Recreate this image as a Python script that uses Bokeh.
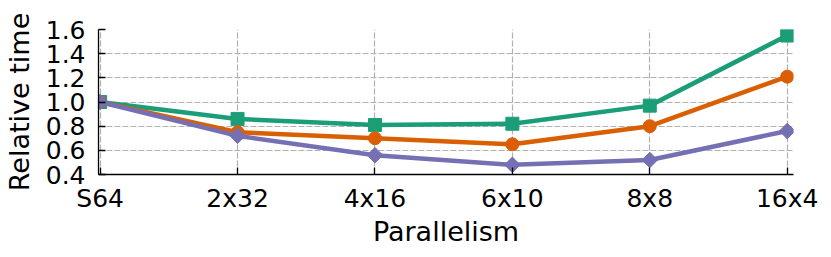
import math
from bokeh.plotting import figure
from bokeh.models import FixedTicker
from bokeh.embed import file_html
from bokeh.resources import INLINE

categories = ["S64", "2x32", "4x16", "6x10", "8x8", "16x4"]
green_vals = [1.0, 0.86, 0.81, 0.82, 0.97, 1.55]
orange_vals = [1.0, 0.75, 0.70, 0.65, 0.80, 1.21]
purple_vals = [1.0, 0.72, 0.56, 0.48, 0.52, 0.76]
y_ticks = [0.4, 0.6, 0.8, 1.0, 1.2, 1.4, 1.6]
y_tick_labels = ["0.4", "0.6", "0.8", "1.0", "1.2", "1.4", "1.6"]

FONT = "DejaVu Sans"
xs = list(range(len(categories)))

p = figure(width=823, height=249, output_backend="svg", toolbar_location=None,
           x_range=(-0.012, 5.046), y_range=(0.4, 1.6),
           min_border_left=98, min_border_right=30, min_border_top=29, min_border_bottom=75)
p.outline_line_color = None
p.background_fill_color = "white"
p.border_fill_color = "white"

# series: green (square), orange (circle), purple (diamond)
p.line(xs, green_vals, line_color="#1b9e77", line_width=4.5)
p.scatter(xs, green_vals, marker="square", size=13, fill_color="#1b9e77", line_color="#1b9e77")
p.line(xs, orange_vals, line_color="#d95f02", line_width=4.5)
p.scatter(xs, orange_vals, marker="circle", size=13, fill_color="#d95f02", line_color="#d95f02")
p.line(xs, purple_vals, line_color="#7570b3", line_width=4.5)
p.scatter(xs, purple_vals, marker="square", size=11, angle=math.pi / 4,
          fill_color="#7570b3", line_color="#7570b3")

# axes
p.xaxis.ticker = FixedTicker(ticks=xs)
p.xaxis.major_label_overrides = {i: c for i, c in enumerate(categories)}
p.yaxis.ticker = FixedTicker(ticks=y_ticks)
p.yaxis.major_label_overrides = {t: l for t, l in zip(y_ticks, y_tick_labels)}
p.xaxis.axis_label = "Parallelism"
p.yaxis.axis_label = "Relative time"

for ax in (p.xaxis, p.yaxis):
    ax.axis_line_color = "black"
    ax.axis_line_width = 1.3
    ax.major_tick_in = 7
    ax.major_tick_out = 0
    ax.major_tick_line_color = "black"
    ax.major_tick_line_width = 1.3
    ax.minor_tick_line_color = None
    ax.major_label_text_font = FONT
    ax.major_label_text_font_size = "25px"
    ax.major_label_text_color = "black"
    ax.axis_label_text_font = FONT
    ax.axis_label_text_font_size = "27px"
    ax.axis_label_text_font_style = "normal"
    ax.axis_label_text_color = "black"

p.xaxis.major_label_standoff = 9
p.xaxis.axis_label_standoff = 0
p.yaxis.major_label_standoff = 13
p.yaxis.axis_label_standoff = 8

for g in (p.xgrid, p.ygrid):
    g.grid_line_color = "#b0b0b0"
    g.grid_line_dash = "6 2"
    g.grid_line_width = 1.2

open("out.html", "w").write(file_html(p, INLINE))
